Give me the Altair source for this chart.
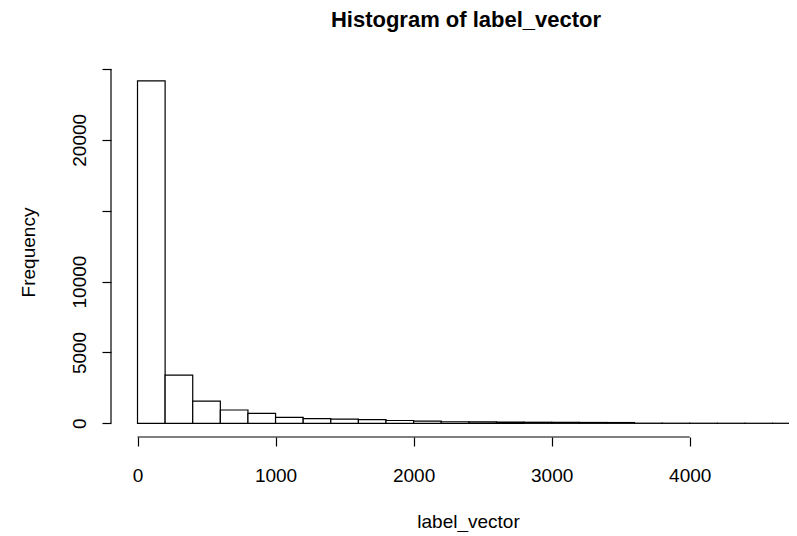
import altair as alt
import pandas as pd

# Histogram bins (width 200) and their frequencies
bin_starts = [0, 200, 400, 600, 800, 1000, 1200, 1400, 1600, 1800, 2000, 2200,
              2400, 2600, 2800, 3000, 3200, 3400, 3600, 3800, 4000, 4200, 4400, 4600]
bin_ends = [200, 400, 600, 800, 1000, 1200, 1400, 1600, 1800, 2000, 2200, 2400,
            2600, 2800, 3000, 3200, 3400, 3600, 3800, 4000, 4200, 4400, 4600, 4800]
counts = [24150, 3400, 1570, 940, 700, 420, 330, 300, 260, 200, 160, 110,
          95, 85, 75, 70, 60, 55, 10, 8, 6, 5, 4, 3]

x_tick_values = [0, 1000, 2000, 3000, 4000]
y_tick_values = [0, 5000, 10000, 15000, 20000, 25000]
x_domain = [-192, 4719]
y_domain = [-965, 25065]

df = pd.DataFrame({"start": bin_starts, "end": bin_ends, "count": counts,
                   "base": [0] * len(counts)})
x_axis_line = pd.DataFrame({"x": [x_tick_values[0]], "x2": [x_tick_values[-1]],
                            "y": [y_domain[0]]})
y_axis_line = pd.DataFrame({"x": [x_domain[0]], "y": [y_tick_values[0]],
                            "y2": [y_tick_values[-1]]})

FONT = "Liberation Sans"
x_scale = alt.Scale(domain=x_domain, nice=False, zero=False)
y_scale = alt.Scale(domain=y_domain, nice=False, zero=False)

bars = alt.Chart(df).mark_rect(
    fill="white", stroke="black", strokeWidth=1.2, clip=True
).encode(
    x=alt.X("start:Q", scale=x_scale,
            axis=alt.Axis(values=x_tick_values, format="d", title="label_vector",
                          domain=False, grid=False, tickSize=9, tickColor="black",
                          tickWidth=1.2,
                          labelFont=FONT, labelFontSize=19, labelColor="black",
                          labelBaseline="alphabetic", labelPadding=35,
                          labelFlush=False, labelOverlap=False,
                          titleFont=FONT, titleFontSize=19, titleFontWeight="normal",
                          titleColor="black", titleBaseline="alphabetic",
                          titleAlign="center", titleX=357, titleY=90)),
    x2="end:Q",
    y=alt.Y("count:Q", scale=y_scale,
            axis=alt.Axis(values=y_tick_values, format="d", title="Frequency",
                          domain=False, grid=False, tickSize=9, tickColor="black",
                          tickWidth=1.2,
                          labelExpr="datum.value == 15000 || datum.value == 25000 ? '' : datum.label",
                          labelFont=FONT, labelFontSize=19, labelColor="black",
                          labelAngle=270, labelAlign="center",
                          labelBaseline="alphabetic", labelPadding=17,
                          labelFlush=False, labelOverlap=False,
                          titleFont=FONT, titleFontSize=19, titleFontWeight="normal",
                          titleColor="black", titleAngle=270,
                          titleBaseline="alphabetic", titleAlign="center",
                          titleX=-77, titleY=184)),
    y2="base:Q",
)

x_line = alt.Chart(x_axis_line).mark_rule(color="black", strokeWidth=1.2).encode(
    x=alt.X("x:Q", scale=x_scale), x2="x2:Q", y=alt.Y("y:Q", scale=y_scale)
)
y_line = alt.Chart(y_axis_line).mark_rule(color="black", strokeWidth=1.2).encode(
    x=alt.X("x:Q", scale=x_scale), y=alt.Y("y:Q", scale=y_scale), y2="y2:Q"
)

chart = alt.layer(bars, x_line, y_line).properties(
    width=678,
    height=369,
    background="white",
    title=alt.TitleParams(
        text="Histogram of label_vector", font=FONT, fontSize=22,
        fontWeight="bold", color="black", anchor="middle", frame="group",
        baseline="alphabetic", offset=19, dx=16,
    ),
    autosize=alt.AutoSizeParams(type="none"),
    padding={"left": 103, "top": 60, "right": 0, "bottom": 95},
).configure_view(strokeWidth=0, stroke="transparent").configure_axis(grid=False)

chart.save("out.html", embed_options={"renderer": "svg", "actions": False})
